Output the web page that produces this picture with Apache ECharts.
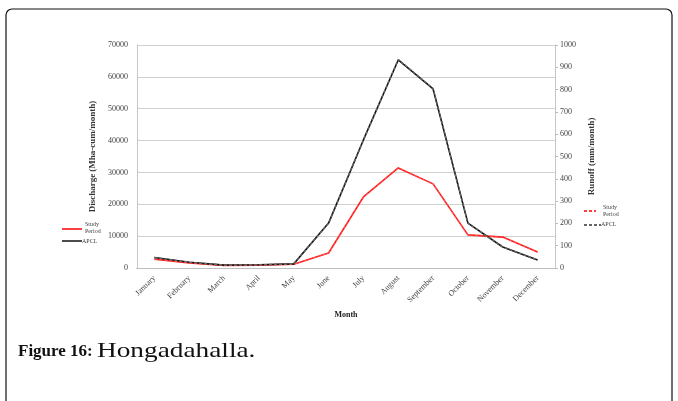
<!DOCTYPE html>
<html>
<head>
<meta charset="utf-8">
<script src="https://cdn.jsdelivr.net/npm/echarts@6/dist/echarts.min.js"></script>
<style>
html,body{margin:0;padding:0;background:#fff;}
#c{width:678px;height:401px;}
</style>
</head>
<body>
<div id="c"></div>
<script>
var months = ['January','February','March','April','May','June','July','August','September','October','November','December'];
var studyDischarge = [2800, 1600, 800, 900, 1200, 4700, 22300, 31400, 26400, 10400, 9700, 5000];
var apclDischarge = [3300, 1800, 900, 1000, 1300, 14100, 40200, 65300, 56200, 14100, 6600, 2500];
var studyRunoff = [40, 23, 12, 13, 17, 67, 318, 450, 377, 148, 139, 71];
var apclRunoff = [47, 26, 13, 14, 19, 201, 574, 935, 805, 201, 94, 36];
var leftTicks = [0, 10000, 20000, 30000, 40000, 50000, 60000, 70000];
var rightTicks = [0, 100, 200, 300, 400, 500, 600, 700, 800, 900, 1000];

var chart = echarts.init(document.getElementById('c'));
var serif = '"Liberation Serif", "DejaVu Serif", serif';
chart.setOption({
  animation: false,
  backgroundColor: '#fff',
  textStyle: {fontFamily: serif},
  grid: {left: 137, right: 123, top: 45, bottom: 133, containLabel: false},
  graphic: [
    {type: 'rect', shape: {x: 6, y: 9, width: 666, height: 430, r: 6},
     style: {fill: 'rgba(0,0,0,0)', stroke: '#111', lineWidth: 1.2}},
    {type: 'text', left: 18, top: 343, style: {text: 'Figure 16:', font: 'bold 17px ' + serif, fill: '#111'}},
    {type: 'text', x: 97, y: 341, scaleX: 1.3, originX: 0, originY: 0, style: {text: 'Hongadahalla.', font: '21px ' + serif, fill: '#111'}},
    {type: 'line', shape: {x1: 62, y1: 229, x2: 82, y2: 229}, style: {stroke: '#ff0000', lineWidth: 1.5}},
    {type: 'text', left: 85, top: 221, style: {text: 'Study\nPeriod', font: '6px ' + serif, fill: '#444', lineHeight: 7}},
    {type: 'line', shape: {x1: 62, y1: 241, x2: 82, y2: 241}, style: {stroke: '#111', lineWidth: 1.5}},
    {type: 'text', left: 82, top: 238, style: {text: 'APCL', font: '6px ' + serif, fill: '#444'}},
    {type: 'line', shape: {x1: 584, y1: 211, x2: 596, y2: 211}, style: {stroke: '#ff0000', lineWidth: 1.5, lineDash: [3, 2]}},
    {type: 'text', left: 603, top: 204, style: {text: 'Study\nPeriod', font: '6px ' + serif, fill: '#444', lineHeight: 7}},
    {type: 'line', shape: {x1: 584, y1: 225, x2: 601, y2: 225}, style: {stroke: '#333', lineWidth: 1.5, lineDash: [3, 2]}},
    {type: 'text', left: 601, top: 221, style: {text: 'APCL', font: '6px ' + serif, fill: '#444'}}
  ],
  xAxis: [{
    type: 'category', data: months, boundaryGap: true,
    name: 'Month', nameLocation: 'middle', nameGap: 31,
    nameTextStyle: {fontFamily: serif, fontWeight: 'bold', fontSize: 8, color: '#222'},
    axisLine: {lineStyle: {color: '#bbb', type: 'dotted'}},
    axisTick: {show: false},
    axisLabel: {rotate: 45, fontSize: 8, color: '#444', fontFamily: serif, margin: 9, interval: 0}
  }, {
    type: 'category', data: months, position: 'top', boundaryGap: true,
    axisLine: {show: true, lineStyle: {color: '#bbb', type: 'dotted'}},
    axisTick: {show: false}, axisLabel: {show: false}
  }],
  yAxis: [
    {type: 'value', min: 0, max: 70000, interval: 10000,
     name: 'Discharge (Mha-cum/month)', nameLocation: 'middle', nameGap: 34,
     nameTextStyle: {fontFamily: serif, fontWeight: 'bold', fontSize: 9, color: '#333'},
     axisLine: {show: true, lineStyle: {color: '#bbb', type: 'dotted'}},
     axisTick: {show: false},
     axisLabel: {fontSize: 8, color: '#444', fontFamily: serif, margin: 9, formatter: function (v) { return String(v); }},
     splitLine: {show: true, lineStyle: {color: '#ccd4cc', width: 1}}},
    {type: 'value', min: 0, max: 1000, interval: 100,
     name: 'Runoff (mm/month)', nameLocation: 'middle', nameGap: 28,
     nameTextStyle: {fontFamily: serif, fontWeight: 'bold', fontSize: 9, color: '#333'},
     axisLine: {show: true, lineStyle: {color: '#bbb', type: 'dotted'}},
     axisTick: {show: true, length: 3, inside: false, lineStyle: {color: '#bbb'}},
     axisLabel: {fontSize: 8, color: '#444', fontFamily: serif, margin: 5, formatter: function (v) { return String(v); }},
     splitLine: {show: false}}
  ],
  series: [
    {name: 'Study Period', type: 'line', yAxisIndex: 0, data: studyDischarge, symbol: 'none',
     lineStyle: {color: '#ff1a1a', width: 1.6}},
    {name: 'APCL', type: 'line', yAxisIndex: 0, data: apclDischarge, symbol: 'none',
     lineStyle: {color: '#111', width: 1.6}},
    {name: 'Study Period R', type: 'line', yAxisIndex: 1, data: studyRunoff, symbol: 'none',
     lineStyle: {color: '#ff5555', width: 1.0, type: [3, 2]}},
    {name: 'APCL R', type: 'line', yAxisIndex: 1, data: apclRunoff, symbol: 'none',
     lineStyle: {color: '#666', width: 1.4, type: [3, 2]}}
  ]
});
</script>
</body>
</html>
